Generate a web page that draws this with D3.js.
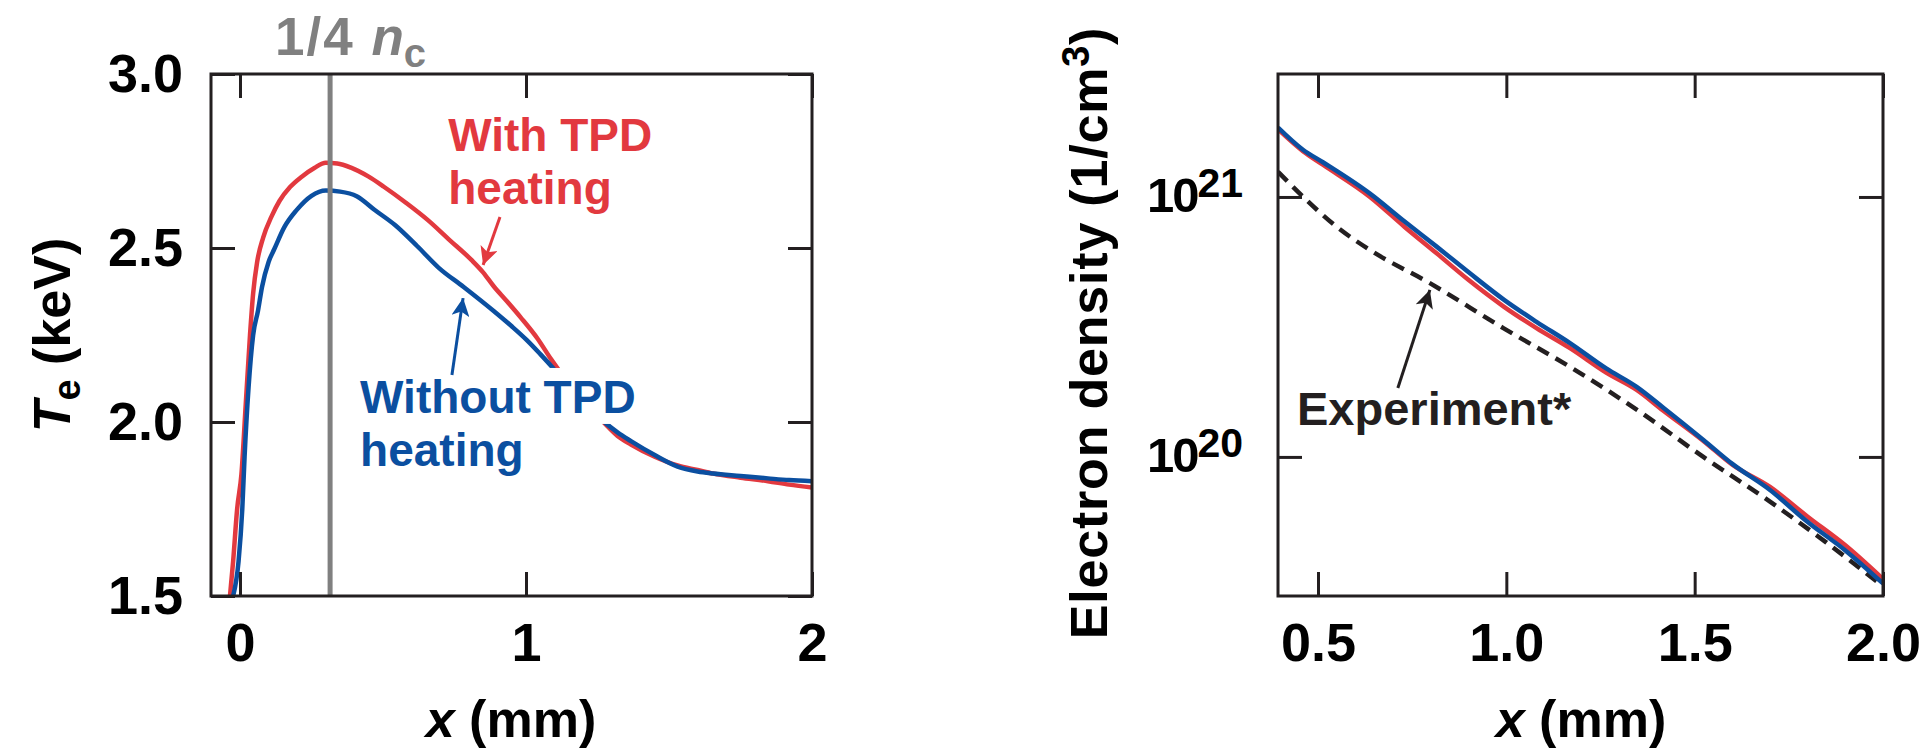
<!DOCTYPE html>
<html>
<head>
<meta charset="utf-8">
<script src="https://cdn.jsdelivr.net/npm/d3@7"></script>
<style>
  body { margin: 0; background: #fff; }
  text { font-family: 'Liberation Sans', Arial, Helvetica, sans-serif; font-weight: bold; }
</style>
</head>
<body>
<div id="chart"></div>
<script>
// ---- left panel: electron temperature (keV) vs x (mm)
let teWithTPD = [
  [-0.035, 1.5], [-0.024, 1.6], [-0.01, 1.75], [0.005, 1.85], [0.02, 2.05], [0.035, 2.25],
  [0.046, 2.37], [0.06, 2.46], [0.081, 2.53], [0.11, 2.59], [0.138, 2.635], [0.175, 2.675],
  [0.216, 2.705], [0.26, 2.73], [0.3, 2.745], [0.34, 2.743], [0.388, 2.731], [0.45, 2.705],
  [0.503, 2.676], [0.58, 2.63], [0.657, 2.58], [0.73, 2.525], [0.81, 2.465], [0.85, 2.43],
  [0.887, 2.39], [0.93, 2.35], [0.982, 2.3], [1.04, 2.24], [1.088, 2.18], [1.15, 2.11],
  [1.21, 2.05], [1.27, 2.0], [1.32, 1.96], [1.367, 1.935], [1.45, 1.9], [1.53, 1.875],
  [1.6, 1.862], [1.654, 1.852], [1.75, 1.84], [1.846, 1.83], [1.92, 1.82], [2.0, 1.812]
]
let teWithoutTPD = [
  [-0.024, 1.5], [-0.005, 1.6], [0.008, 1.75], [0.016, 1.9], [0.03, 2.1], [0.046, 2.25],
  [0.063, 2.32], [0.077, 2.388], [0.1, 2.46], [0.12, 2.497], [0.155, 2.56], [0.197, 2.608],
  [0.25, 2.65], [0.3, 2.665], [0.35, 2.662], [0.408, 2.649], [0.47, 2.61], [0.542, 2.566],
  [0.62, 2.505], [0.695, 2.443], [0.782, 2.388], [0.887, 2.319], [0.95, 2.275], [1.002, 2.236],
  [1.05, 2.195], [1.088, 2.161], [1.15, 2.1], [1.21, 2.05], [1.27, 2.003], [1.32, 1.97],
  [1.367, 1.945], [1.45, 1.905], [1.53, 1.872], [1.6, 1.858], [1.654, 1.852], [1.75, 1.845],
  [1.846, 1.838], [1.92, 1.833], [2.0, 1.83]
]
let quarterCritical = 0.315
let teXTicks = [0, 1, 2]
let teYTicks = [1.5, 2.0, 2.5, 3.0]

// ---- right panel: electron density (1/cm3) vs x (mm)
let densX = [0.394, 0.46, 0.513, 0.638, 0.73, 0.815, 0.9, 0.994, 1.08, 1.169, 1.265, 1.346,
  1.416, 1.524, 1.6, 1.7, 1.8, 1.9, 2.0]
let densWithTPD = [1.82e21, 1.5e21, 1.33e21, 1.0e21, 7.67e20, 6.07e20, 4.79e20, 3.78e20,
  3.13e20, 2.62e20, 2.11e20, 1.81e20, 1.51e20, 1.15e20, 9.33e19, 7.67e19, 5.89e19, 4.57e19, 3.39e19]
let densWithoutTPD = [1.85e21, 1.52e21, 1.36e21, 1.03e21, 8.04e20, 6.44e20, 5.13e20, 4.02e20,
  3.31e20, 2.74e20, 2.19e20, 1.86e20, 1.55e20, 1.16e20, 9.4e19, 7.46e19, 5.62e19, 4.37e19, 3.26e19]
let expX = [0.394, 0.461, 0.549, 0.638, 0.797, 0.992, 1.169, 1.346, 1.523, 1.7, 1.85, 1.995]
let expDensity = [1.25e21, 1.0e21, 7.69e20, 6.25e20, 4.66e20, 3.13e20, 2.22e20, 1.52e20,
  1.0e20, 6.73e19, 4.68e19, 3.22e19]
let densXTicks = [0.5, 1.0, 1.5, 2.0]
let densYTicks = [1e20, 1e21]

let red = '#e2393f'
let blue = '#0b4fa0'
let ink = '#231f20'
let grey = '#808080'

let svgWidth = 1927
let svgHeight = 750
let plotTop = 74
let plotBottom = 596

let svg = d3
  .select('#chart')
  .append('svg')
  .attr('width', svgWidth)
  .attr('height', svgHeight)

let defs = svg.append('defs')
;[['red', red], ['blue', blue], ['ink', ink]].forEach(([id, c]) => {
  defs
    .append('marker')
    .attr('id', 'arrow-' + id)
    .attr('viewBox', '0 0 10 10')
    .attr('refX', 10)
    .attr('refY', 5)
    .attr('markerWidth', 24)
    .attr('markerHeight', 18)
    .attr('markerUnits', 'userSpaceOnUse')
    .attr('orient', 'auto')
    .append('path')
    .attr('d', 'M0,0 L10,5 L0,10 L2.5,5 z')
    .attr('fill', c)
})

let xL = d3.scaleLinear().domain([-0.1014, 2]).range([211, 812])
let yL = d3.scaleLinear().domain([1.5, 3]).range([plotBottom, plotTop])
let xR = d3.scaleLinear().domain([0.3938, 2]).range([1278, 1883])
let yR = d3.scaleLog().domain([Math.pow(10, 19.465), Math.pow(10, 21.473)]).range([plotBottom, plotTop])

function clip(id, x) {
  defs
    .append('clipPath')
    .attr('id', id)
    .append('rect')
    .attr('x', x.range()[0])
    .attr('y', plotTop)
    .attr('width', x.range()[1] - x.range()[0])
    .attr('height', plotBottom - plotTop)
}
clip('clip-left', xL)
clip('clip-right', xR)

// inward ticks on all four sides
function frameTicks(x, y, xt, yt) {
  let g = svg.append('g')
  let x0 = x.range()[0]
  let x1 = x.range()[1]
  g.append('g').attr('transform', `translate(0,${plotBottom})`)
    .call(d3.axisBottom(x).tickValues(xt).tickSize(-24).tickFormat(''))
  g.append('g').attr('transform', `translate(0,${plotTop})`)
    .call(d3.axisTop(x).tickValues(xt).tickSize(-24).tickFormat(''))
  g.append('g').attr('transform', `translate(${x0},0)`)
    .call(d3.axisLeft(y).tickValues(yt).tickSize(-24).tickFormat(''))
  g.append('g').attr('transform', `translate(${x1},0)`)
    .call(d3.axisRight(y).tickValues(yt).tickSize(-24).tickFormat(''))
  g.selectAll('.domain').remove()
  g.selectAll('.tick line').attr('stroke', ink).attr('stroke-width', 3)
  svg.append('rect')
    .attr('x', x0)
    .attr('y', plotTop)
    .attr('width', x1 - x0)
    .attr('height', plotBottom - plotTop)
    .attr('fill', 'none')
    .attr('stroke', ink)
    .attr('stroke-width', 3)
}

function styleLabels(g, size) {
  g.select('.domain').remove()
  g.selectAll('text').attr('fill', '#000').style('font-size', size + 'px')
}

// ================= left panel
let lineL = d3.line().x(d => xL(d[0])).y(d => yL(d[1])).curve(d3.curveMonotoneX)

let curvesL = svg.append('g').attr('clip-path', 'url(#clip-left)')
curvesL.append('path')
  .datum(teWithTPD)
  .attr('d', lineL)
  .attr('fill', 'none')
  .attr('stroke', red)
  .attr('stroke-width', 4.5)
curvesL.append('path')
  .datum(teWithoutTPD)
  .attr('d', lineL)
  .attr('fill', 'none')
  .attr('stroke', blue)
  .attr('stroke-width', 4.5)

svg.append('line')
  .attr('x1', xL(quarterCritical))
  .attr('x2', xL(quarterCritical))
  .attr('y1', plotTop)
  .attr('y2', plotBottom)
  .attr('stroke', grey)
  .attr('stroke-width', 5)

frameTicks(xL, yL, teXTicks, teYTicks)

svg.append('g').attr('transform', `translate(0,${plotBottom})`)
  .call(d3.axisBottom(xL).tickValues(teXTicks).tickSize(0).tickPadding(27).tickFormat(d3.format('d')))
  .call(g => styleLabels(g, 54))
svg.append('g').attr('transform', `translate(${xL.range()[0]},0)`)
  .call(d3.axisLeft(yL).tickValues(teYTicks).tickSize(0).tickPadding(28).tickFormat(d3.format('.1f')))
  .call(g => styleLabels(g, 54))

// 1/4 n_c label
let nc = svg.append('text')
  .attr('x', 275)
  .attr('y', 55)
  .attr('fill', grey)
  .style('font-size', '53px')
nc.append('tspan').text('1/4 ').style('letter-spacing', '2px')
nc.append('tspan').text('n').style('font-style', 'italic')
nc.append('tspan').text('c').attr('dy', 12).style('font-size', '40px')

// annotations
let withText = svg.append('text')
  .attr('x', xL(0.728))
  .attr('y', yL(2.779))
  .attr('fill', red)
  .style('font-size', '46px')
withText.append('tspan').text('With TPD')
withText.append('tspan').text('heating').attr('x', xL(0.728)).attr('dy', 53)

svg.append('line')
  .attr('x1', xL(0.909)).attr('y1', yL(2.589))
  .attr('x2', xL(0.85)).attr('y2', yL(2.451))
  .attr('stroke', red)
  .attr('stroke-width', 3)
  .attr('marker-end', 'url(#arrow-red)')

let noTpd = svg.append('g')
;[['Without TPD', 2.026], ['heating', 1.874]].forEach(([t, v]) => {
  let txt = noTpd.append('text')
    .attr('x', xL(0.42))
    .attr('y', yL(v))
    .attr('fill', blue)
    .style('font-size', '46px')
    .text(t)
  let b = txt.node().getBBox()
  noTpd.insert('rect', 'text')
    .attr('x', b.x - 6)
    .attr('y', b.y - 3)
    .attr('width', b.width + 12)
    .attr('height', b.height + 4)
    .attr('fill', '#fff')
})

svg.append('line')
  .attr('x1', xL(0.741)).attr('y1', yL(2.135))
  .attr('x2', xL(0.78)).attr('y2', yL(2.356))
  .attr('stroke', blue)
  .attr('stroke-width', 3)
  .attr('marker-end', 'url(#arrow-blue)')

// axis titles
let teTitle = svg.append('text')
  .attr('transform', 'translate(70,335) rotate(-90)')
  .attr('text-anchor', 'middle')
  .attr('fill', '#000')
  .style('font-size', '52px')
teTitle.append('tspan').text('T').style('font-style', 'italic')
teTitle.append('tspan').text('e').attr('dy', 10).style('font-size', '38px')
teTitle.append('tspan').text(' (keV)').attr('dy', -10)

function xTitle(cx) {
  let t = svg.append('text')
    .attr('x', cx)
    .attr('y', 737)
    .attr('text-anchor', 'middle')
    .attr('fill', '#000')
    .style('font-size', '52px')
  t.append('tspan').text('x').style('font-style', 'italic')
  t.append('tspan').text(' (mm)')
}
xTitle(511)

// ================= right panel
let lineR = d3.line().x(d => xR(d[0])).y(d => yR(d[1])).curve(d3.curveMonotoneX)

let curvesR = svg.append('g').attr('clip-path', 'url(#clip-right)')
curvesR.append('path')
  .datum(d3.zip(expX, expDensity))
  .attr('d', lineR)
  .attr('fill', 'none')
  .attr('stroke', ink)
  .attr('stroke-width', 4.5)
  .attr('stroke-dasharray', '13,8')
curvesR.append('path')
  .datum(d3.zip(densX, densWithTPD))
  .attr('d', lineR)
  .attr('fill', 'none')
  .attr('stroke', red)
  .attr('stroke-width', 4.5)
curvesR.append('path')
  .datum(d3.zip(densX, densWithoutTPD))
  .attr('d', lineR)
  .attr('fill', 'none')
  .attr('stroke', blue)
  .attr('stroke-width', 4.5)

frameTicks(xR, yR, densXTicks, densYTicks)

svg.append('g').attr('transform', `translate(0,${plotBottom})`)
  .call(d3.axisBottom(xR).tickValues(densXTicks).tickSize(0).tickPadding(27).tickFormat(d3.format('.1f')))
  .call(g => styleLabels(g, 54))

let yLab = svg.append('g').attr('transform', `translate(${xR.range()[0]},0)`)
  .call(d3.axisLeft(yR).tickValues(densYTicks).tickSize(0).tickFormat(''))
yLab.select('.domain').remove()
yLab.selectAll('.tick').append('text')
  .attr('x', -35)
  .attr('y', 15)
  .attr('text-anchor', 'end')
  .attr('fill', '#000')
  .each(function (d) {
    let t = d3.select(this)
    t.append('tspan').text('10').style('font-size', '49px').style('letter-spacing', '-2px')
    t.append('tspan').text(Math.round(Math.log10(d))).attr('dy', -15).style('font-size', '41px')
  })

svg.append('text')
  .attr('x', 1297)
  .attr('y', 425)
  .attr('fill', ink)
  .style('font-size', '47px')
  .text('Experiment*')

svg.append('line')
  .attr('x1', xR(0.712)).attr('y1', yR(1.84e20))
  .attr('x2', xR(0.797)).attr('y2', yR(4.39e20))
  .attr('stroke', ink)
  .attr('stroke-width', 3)
  .attr('marker-end', 'url(#arrow-ink)')

let nTitle = svg.append('text')
  .attr('transform', 'translate(1107,333) rotate(-90)')
  .attr('text-anchor', 'middle')
  .attr('fill', '#000')
  .style('font-size', '52px')
  .style('letter-spacing', '0.8px')
nTitle.append('tspan').text('Electron density (1/cm')
nTitle.append('tspan').text('3').attr('dy', -18).style('font-size', '38px')
nTitle.append('tspan').text(')').attr('dy', 18)

xTitle(1581)
</script>
</body>
</html>
